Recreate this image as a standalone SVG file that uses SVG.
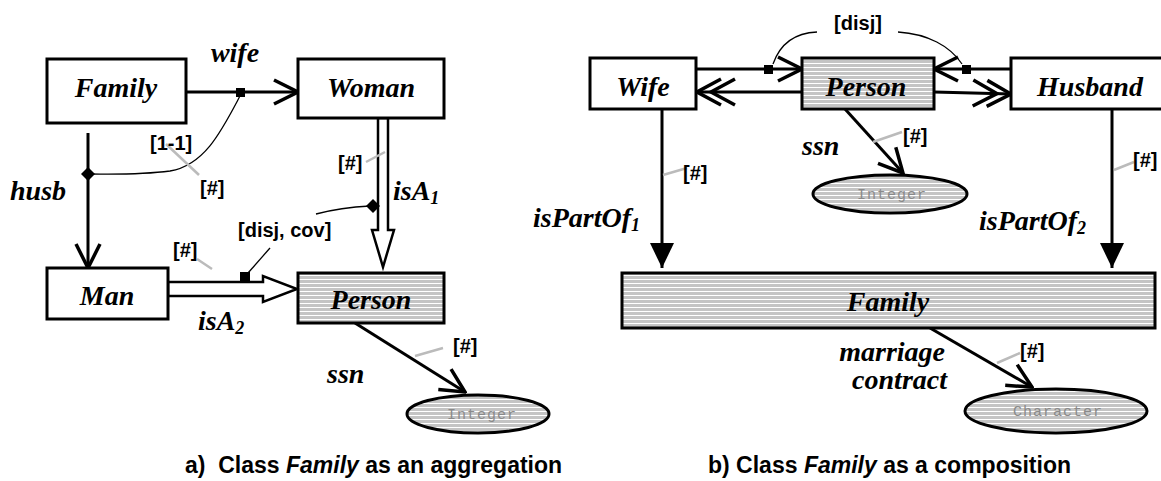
<svg xmlns="http://www.w3.org/2000/svg" width="1161" height="481" viewBox="0 0 1161 481">
<style>
.box{fill:#fff;stroke:#000;stroke-width:3}
.sbox{fill:url(#stripes);stroke:#000;stroke-width:3}
.nm{font-family:"Liberation Serif",serif;font-weight:bold;font-style:italic;font-size:28px;fill:#000}
.rl{font-family:"Liberation Serif",serif;font-weight:bold;font-style:italic;font-size:28px;fill:#000}
.br{font-family:"Liberation Sans",Arial,sans-serif;font-weight:bold;font-size:20px;fill:#000}
.cap{font-family:"Liberation Sans",Arial,sans-serif;font-weight:bold;font-size:23px;fill:#000}
.ln{fill:none;stroke:#000;stroke-width:3}
.thin{fill:none;stroke:#000;stroke-width:1.3}
.gr{fill:none;stroke:#bbb;stroke-width:2.5}
.et{font-family:"Liberation Mono",monospace;font-size:15px;fill:#8a8a8a;letter-spacing:1px}
</style>
<defs>
<pattern id="stripes" patternUnits="userSpaceOnUse" width="8" height="4">
<rect width="8" height="4" fill="#c4c4c4"/>
<rect y="3" width="8" height="1" fill="#fff"/>
</pattern>
<marker id="open" viewBox="0 0 28 28" refX="26" refY="14" markerWidth="28" markerHeight="28" markerUnits="userSpaceOnUse" orient="auto">
<path d="M2,2 L26,14 L2,26" fill="none" stroke="#000" stroke-width="3.5"/>
</marker>
<marker id="dbl" viewBox="0 0 42 30" refX="40" refY="15" markerWidth="42" markerHeight="30" markerUnits="userSpaceOnUse" orient="auto">
<path d="M2,2 L26,15 L2,28 M16,2 L40,15 L16,28" fill="none" stroke="#000" stroke-width="3.5"/>
</marker>
<marker id="fill" viewBox="0 0 26 26" refX="25" refY="13" markerWidth="26" markerHeight="26" markerUnits="userSpaceOnUse" orient="auto">
<path d="M0,1 L25,13 L0,25 Z" fill="#000"/>
</marker>
</defs>

<!-- ===== a) ===== -->
<g id="connectors-a">
<line class="ln" x1="186" y1="92" x2="298" y2="92" marker-end="url(#open)"/>
<line class="ln" x1="88" y1="133" x2="88" y2="268" marker-end="url(#open)"/>
<rect x="236" y="88" width="9" height="9" fill="#000"/>
<path class="thin" d="M240,96 C222,130 205,165 170,171 C140,175 110,174 90,174"/>
<path d="M88,167 L95,174 L88,181 L81,174 Z" fill="#000"/>
<line class="gr" x1="166" y1="144" x2="199" y2="175"/>
<polygon points="378,118 378,230 372,230 383,267 394,230 388,230 388,118" fill="#fff" stroke="#000" stroke-width="2.5"/>
<line class="gr" x1="366" y1="162" x2="385" y2="152"/>
<path class="thin" d="M316,214 C335,209 350,207 370,206"/>
<path d="M373,199 L380,206 L373,213 L366,206 Z" fill="#000"/>
<polygon points="168,282 263,282 263,276 297,289 263,302 263,296 168,296" fill="#fff" stroke="#000" stroke-width="2.5"/>
<rect x="240" y="272" width="10" height="10" fill="#000"/>
<line class="thin" x1="248" y1="273" x2="270" y2="248"/>
<line class="gr" x1="197" y1="259" x2="212" y2="269"/>
<line class="ln" x1="355" y1="323" x2="465" y2="392" marker-end="url(#open)"/>
<line class="gr" x1="415" y1="356" x2="443" y2="348"/>
</g>
<g id="Family-a">
<rect class="box" x="47" y="59" width="139" height="64"/>
<text class="nm" x="116" y="97" text-anchor="middle">Family</text>
</g>
<g id="Woman-a">
<rect class="box" x="298" y="59" width="146" height="59"/>
<text class="nm" x="371" y="97" text-anchor="middle">Woman</text>
</g>
<g id="Man-a">
<rect class="box" x="47" y="268" width="121" height="51"/>
<text class="nm" x="107" y="305" text-anchor="middle">Man</text>
</g>
<g id="Person-a">
<rect class="sbox" x="298" y="273" width="146" height="50"/>
<text class="nm" x="371" y="309" text-anchor="middle">Person</text>
</g>
<g id="Integer-a">
<ellipse cx="478" cy="414" rx="71" ry="19" fill="url(#stripes)" stroke="#000" stroke-width="3"/>
<text class="et" x="482" y="419" text-anchor="middle">Integer</text>
</g>
<g id="labels-a">
<text class="rl" x="235" y="62" text-anchor="middle">wife</text>
<text class="rl" x="10" y="200">husb</text>
<text class="br" x="150" y="150">[1-1]</text>
<text class="br" x="200" y="195">[#]</text>
<text class="br" x="338" y="170">[#]</text>
<text class="rl" x="393" y="200">isA<tspan font-size="18" dy="4">1</tspan></text>
<text class="br" x="238" y="237">[disj, cov]</text>
<text class="br" x="173" y="257">[#]</text>
<text class="rl" x="198" y="330">isA<tspan font-size="18" dy="4">2</tspan></text>
<text class="br" x="453" y="353">[#]</text>
<text class="rl" x="327" y="383">ssn</text>
<text class="cap" x="185" y="473" xml:space="preserve">a)  Class <tspan font-style="italic">Family</tspan> as an aggregation</text>
</g>

<!-- ===== b) ===== -->
<g id="connectors-b">
<path class="thin" d="M817,32 C792,33 779,47 773,64"/>
<path class="thin" d="M898,32 C928,34 950,46 962,64"/>
<line class="ln" x1="696" y1="69" x2="802" y2="69" marker-end="url(#open)"/>
<rect x="764" y="65" width="9" height="9" fill="#000"/>
<line class="ln" x1="802" y1="92" x2="697" y2="92" marker-end="url(#dbl)"/>
<line class="ln" x1="1011" y1="69" x2="934" y2="69" marker-end="url(#open)"/>
<rect x="962" y="65" width="9" height="9" fill="#000"/>
<line class="ln" x1="934" y1="92" x2="1011" y2="94" marker-end="url(#dbl)"/>
<line class="ln" x1="845" y1="109" x2="903" y2="173" marker-end="url(#open)"/>
<line class="gr" x1="873" y1="142" x2="902" y2="132"/>
<line class="ln" x1="662" y1="109" x2="662" y2="268" marker-end="url(#fill)"/>
<line class="ln" x1="1112" y1="108" x2="1112" y2="268" marker-end="url(#fill)"/>
<line class="gr" x1="663" y1="175" x2="687" y2="168"/>
<line class="gr" x1="1114" y1="170" x2="1134" y2="162"/>
<line class="ln" x1="930" y1="328" x2="1032" y2="387" marker-end="url(#open)"/>
<line class="gr" x1="997" y1="363" x2="1020" y2="353"/>
</g>
<g id="Wife-b">
<rect class="box" x="590" y="58" width="106" height="51"/>
<text class="nm" x="643" y="96" text-anchor="middle">Wife</text>
</g>
<g id="Person-b">
<rect class="sbox" x="802" y="58" width="132" height="51"/>
<text class="nm" x="866" y="96" text-anchor="middle">Person</text>
</g>
<g id="Husband-b">
<rect class="box" x="1011" y="58" width="165" height="51"/>
<text class="nm" x="1090" y="96" text-anchor="middle">Husband</text>
</g>
<g id="Integer-b">
<ellipse cx="890" cy="194" rx="77" ry="19" fill="url(#stripes)" stroke="#000" stroke-width="3"/>
<text class="et" x="892" y="199" text-anchor="middle">Integer</text>
</g>
<g id="Family-b">
<rect class="sbox" x="622" y="273" width="533" height="55"/>
<text class="nm" x="888" y="311" text-anchor="middle">Family</text>
</g>
<g id="Character-b">
<ellipse cx="1056" cy="411" rx="91" ry="22" fill="url(#stripes)" stroke="#000" stroke-width="3"/>
<text class="et" x="1058" y="416" text-anchor="middle">Character</text>
</g>
<g id="labels-b">
<text class="br" x="858" y="30" text-anchor="middle">[disj]</text>
<text class="br" x="903" y="143">[#]</text>
<text class="rl" x="802" y="155">ssn</text>
<text class="br" x="683" y="180">[#]</text>
<text class="br" x="1133" y="167">[#]</text>
<text class="rl" x="640" y="227" text-anchor="end">isPartOf<tspan font-size="18" dy="4">1</tspan></text>
<text class="rl" x="979" y="230">isPartOf<tspan font-size="18" dy="4">2</tspan></text>
<text class="br" x="1020" y="358">[#]</text>
<text class="rl" x="945" y="361" text-anchor="end" font-size="27">marriage</text>
<text class="rl" x="947" y="389" text-anchor="end" font-size="27">contract</text>
<text class="cap" x="708" y="473">b) Class <tspan font-style="italic">Family</tspan> as a composition</text>
</g>
</svg>
